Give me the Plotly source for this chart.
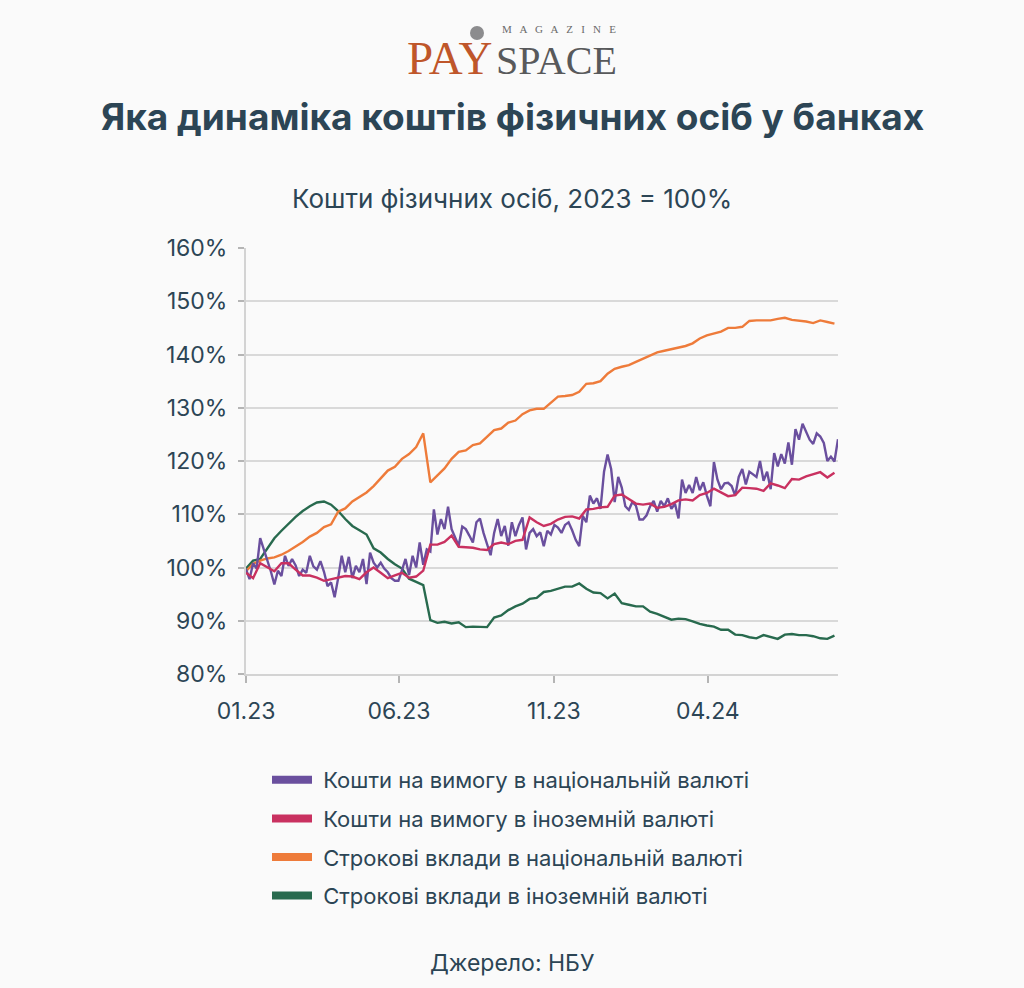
import pandas as pd
import plotly.graph_objects as go

# ---------------- data ----------------
weekly_dates = pd.date_range("2023-01-01", periods=84, freq="7D")
halfweek_dates = pd.date_range("2023-01-01", periods=168, freq="84h")

demand_uah = [  # Кошти на вимогу в національній валюті (twice-weekly)
    99.7, 97.8, 100.8, 99.8, 105.5, 103.5, 101.5, 99.3, 96.8, 99.4,
    98.4, 102.2, 100.3, 101.6, 100.4, 98.4, 99.6, 99.0, 102.2, 100.2,
    99.6, 101.2, 99.2, 96.5, 97.2, 94.4, 98.0, 102.2, 99.1, 102.0,
    98.0, 100.3, 99.1, 101.6, 96.9, 102.8, 100.9, 100.0, 100.9, 99.8,
    99.1, 98.0, 97.5, 97.5, 99.5, 101.6, 98.6, 102.2, 100.0, 104.7,
    100.5, 103.4, 103.0, 110.9, 106.2, 109.1, 107.2, 111.4, 107.2, 105.8,
    104.1, 107.7, 107.2, 106.0, 104.7, 108.5, 109.2, 106.5, 104.6, 102.3,
    106.5, 109.1, 105.9, 107.8, 104.1, 108.5, 105.9, 108.0, 109.4, 103.4,
    106.5, 107.2, 105.9, 106.6, 104.0, 106.9, 106.2, 108.0, 107.5, 106.5,
    108.0, 108.5, 107.0, 105.2, 104.0, 109.7, 108.5, 113.5, 112.0, 113.0,
    111.0, 118.0, 121.2, 118.5, 112.3, 117.0, 115.0, 111.5, 110.8, 112.3,
    111.6, 109.0, 109.0, 109.8, 111.5, 112.5, 110.5, 112.5, 111.5, 113.0,
    111.0, 112.0, 109.2, 116.5, 114.0, 115.5, 114.0, 117.0, 114.5, 116.0,
    113.5, 111.5, 119.8, 116.5, 114.7, 115.8, 115.9, 115.3, 113.5, 117.0,
    118.5, 115.6, 118.0, 117.5, 117.0, 120.0, 116.3, 118.0, 114.7, 121.5,
    119.0, 121.3, 119.5, 123.5, 119.3, 126.0, 124.0, 127.0, 125.5, 124.0,
    123.2, 125.2, 124.6, 123.4, 120.0, 120.8, 119.9, 124.1,
]

demand_fx = [  # Кошти на вимогу в іноземній валюті (weekly)
    99.0, 98.0, 100.8, 100.0, 99.3, 100.8, 100.8, 99.6, 98.5, 98.5,
    98.1, 97.5, 97.8, 98.2, 98.4, 98.3, 97.8, 99.1, 100.0, 99.0,
    98.0, 98.5, 99.0, 98.1, 98.3, 99.4, 104.3, 104.3, 104.8, 106.0,
    103.9, 103.8, 103.7, 103.4, 103.3, 104.4, 104.7, 104.4, 105.0, 105.2,
    109.4, 108.5, 107.8, 108.2, 109.0, 109.5, 109.6, 109.2, 110.9, 111.0,
    111.3, 111.4, 113.5, 113.7, 112.9, 112.0, 111.8, 112.0, 111.2, 111.4,
    111.9, 112.6, 112.8, 112.6, 113.6, 114.0, 114.8, 114.1, 113.4, 113.6,
    115.0, 114.9, 114.8, 114.4, 115.8, 115.4, 114.9, 116.6, 116.5, 117.1,
    117.5, 117.9, 116.9, 117.8,
]

term_uah = [  # Строкові вклади в національній валюті (weekly)
    99.3, 100.7, 101.3, 101.7, 101.9, 102.4, 103.1, 103.9, 104.8, 105.8,
    106.5, 107.6, 108.1, 110.5, 111.1, 112.4, 113.2, 114.1, 115.3, 116.7,
    118.2, 118.9, 120.4, 121.3, 122.6, 125.2, 116.0, 117.3, 118.6, 120.4,
    121.7, 122.0, 123.0, 123.3, 124.6, 125.8, 126.1, 127.2, 127.6, 128.8,
    129.5, 129.8, 129.8, 131.0, 132.1, 132.2, 132.4, 133.0, 134.5, 134.6,
    135.0, 136.4, 137.3, 137.7, 138.0, 138.6, 139.2, 139.8, 140.4, 140.7,
    141.0, 141.2, 141.6, 142.1, 143.0, 143.6, 144.0, 144.3, 145.0, 145.0,
    145.2, 146.3, 146.4, 146.4, 146.4, 146.7, 146.9, 146.5, 146.4, 146.2,
    145.9, 146.4, 146.1, 145.8,
]

term_fx = [  # Строкові вклади в іноземній валюті (weekly)
    99.8, 101.3, 101.6, 103.5, 105.5, 106.9, 108.2, 109.5, 110.6, 111.5,
    112.2, 112.4, 111.8, 110.6, 109.1, 107.8, 107.0, 106.2, 103.6, 102.8,
    101.6, 100.6, 99.8, 97.9, 97.3, 96.7, 90.1, 89.6, 89.8, 89.5,
    89.7, 88.8, 88.9, 88.8, 88.8, 90.6, 91.0, 92.0, 92.7, 93.2,
    94.1, 94.3, 95.4, 95.6, 96.0, 96.4, 96.4, 97.0, 96.0, 95.3,
    95.2, 94.2, 95.1, 93.3, 93.0, 92.7, 92.7, 91.7, 91.3, 90.7,
    90.2, 90.4, 90.3, 89.9, 89.4, 89.1, 88.9, 88.3, 88.3, 87.4,
    87.3, 86.9, 86.7, 87.3, 87.0, 86.6, 87.4, 87.5, 87.3, 87.3,
    87.1, 86.7, 86.6, 87.2,
]

series_names = [
    "Кошти на вимогу в національній валюті",
    "Кошти на вимогу в іноземній валюті",
    "Строкові вклади в національній валюті",
    "Строкові вклади в іноземній валюті",
]
series_colors = ["#6a4f9e", "#c93160", "#ee7b3a", "#286a4e"]

tick_dates = ["2023-01-01", "2023-06-01", "2023-11-01", "2024-04-01"]
tick_labels = ["01.23", "06.23", "11.23", "04.24"]

# ---------------- layout helpers (pixel -> paper) ----------------
W, H = 1024, 988
L, R, T, B = 246, 838, 248, 674


def px(x):
    return (x - L) / (R - L)


def py(y):
    return (B - y) / (B - T)


TXT = "#2c4555"
FONT = "Inter"
BG = "#fafafa"

fig = go.Figure()

data_x = [halfweek_dates, weekly_dates, weekly_dates, weekly_dates]
data_y = [demand_uah, demand_fx, term_uah, term_fx]

for k in [3, 2, 0, 1]:
    fig.add_trace(go.Scatter(
        x=data_x[k], y=data_y[k], mode="lines",
        line=dict(color=series_colors[k], width=2.4),
        name=series_names[k], showlegend=False, hoverinfo="skip",
    ))

# legend entries (thick bars)
for k in range(4):
    fig.add_trace(go.Scatter(
        x=[None], y=[None], mode="lines",
        line=dict(color=series_colors[k], width=8),
        name="\u00a0" + series_names[k], legendgroup=f"g{k}", showlegend=True,
    ))

fig.update_layout(
    width=W, height=H,
    margin=dict(l=L, r=W - R, t=T, b=H - B),
    paper_bgcolor=BG,
    plot_bgcolor=BG,
    font=dict(family=FONT, color=TXT, size=20),
    showlegend=True,
    legend=dict(
        x=px(267), y=py(759), xanchor="left", yanchor="top",
        orientation="v", tracegroupgap=7,
        font=dict(size=22, color=TXT, family=FONT),
        bgcolor="rgba(0,0,0,0)", itemwidth=40,
    ),
)

fig.update_xaxes(
    type="date",
    range=[halfweek_dates[0], halfweek_dates[-1]],
    tickvals=tick_dates, ticktext=tick_labels,
    ticks="outside", ticklen=7, tickcolor="#b5b5b5", tickwidth=1.5,
    showgrid=False, showline=True, linecolor="#d3d3d3", linewidth=2,
    tickfont=dict(size=23, color=TXT, family=FONT),
    ticklabelstandoff=8, zeroline=False,
)
fig.update_yaxes(
    range=[80, 160], dtick=10, ticksuffix="%",
    showgrid=True, gridcolor="#d9d9d9", gridwidth=1.5,
    ticks="outside", ticklen=6, tickcolor="#b5b5b5", tickwidth=1.5,
    showline=True, linecolor="#d3d3d3", linewidth=2,
    tickfont=dict(size=23, color=TXT, family=FONT),
    ticklabelstandoff=6, zeroline=False,
)


def text(t, x, y, size, color=TXT, family=FONT, xanchor="center"):
    return dict(text=t, x=px(x), y=py(y), xref="paper", yref="paper",
                xanchor=xanchor, yanchor="middle", showarrow=False, borderpad=0,
                font=dict(family=family, size=size, color=color))


ann = [
    # logo
    text("PAY", 493, 58, 47, "#bf562a", "Liberation Serif", "right"),
    text("SPACE", 495, 60, 40, "#58595b", "Liberation Serif", "left"),
    text("M   A   G   A   Z   I   N   E", 559, 29, 11, "#6a6a6a", "Liberation Serif"),
    # titles
    text("<b>Яка динаміка коштів фізичних осіб у банках</b>", 512, 117, 37),
    text("Кошти фізичних осіб, 2023 = 100%", 512, 198, 26),
    text("Джерело: НБУ", 512, 963, 23),
]
fig.update_layout(annotations=ann)

# logo ball
fig.add_shape(type="circle", xref="paper", yref="paper",
              x0=px(470), x1=px(484), y0=py(40), y1=py(26),
              fillcolor="#8c8c8e", line=dict(width=0))

fig.write_html(
    "out.html",
    config={"displayModeBar": False},
    post_script="document.body.style.margin='0';document.body.style.background='%s';" % BG,
)
